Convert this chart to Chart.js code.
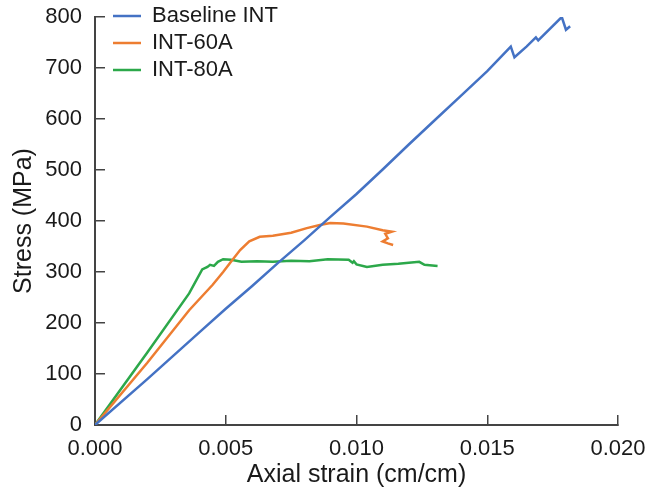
<!DOCTYPE html>
<html>
<head>
<meta charset="utf-8">
<script src="https://cdn.jsdelivr.net/npm/chart.js@4"></script>
<style>
html, body { margin: 0; padding: 0; background: #fff; }
#wrap { width: 647px; height: 491px; }
</style>
</head>
<body>
<div id="wrap"><canvas id="stress-strain"></canvas></div>
<script>
var seriesNames = ['Baseline INT', 'INT-60A', 'INT-80A'];
var seriesColors = ['#4472c4', '#ed7d31', '#2ca84a'];

var baselineStrain = [0, 0.002, 0.004, 0.005, 0.006, 0.007, 0.008, 0.009, 0.010, 0.011, 0.012, 0.013, 0.014, 0.015, 0.0159, 0.01604, 0.0165, 0.01686, 0.01695, 0.01785, 0.01801, 0.01817];
var baselineStress = [0, 90, 182, 228, 272, 318, 362, 408, 453, 501, 550, 598, 646, 694, 742, 721, 742, 760, 754, 800, 775, 782];

var int60Strain = [0, 0.002, 0.0036, 0.0045, 0.0049, 0.0052, 0.00555, 0.0059, 0.0063, 0.0068, 0.0075, 0.0081, 0.0086, 0.0090, 0.0095, 0.0104, 0.0110, 0.01135, 0.0111, 0.0112, 0.0110, 0.0112, 0.0114];
var int60Stress = [0, 122, 225, 275, 300, 320, 343, 360, 369, 371, 377, 386, 392, 396, 395, 389, 382, 379, 375, 366, 360, 356, 353];

var int80Strain = [0, 0.002, 0.0036, 0.0041, 0.0043, 0.0044, 0.00455, 0.0047, 0.0049, 0.0052, 0.0056, 0.0062, 0.0068, 0.0075, 0.0082, 0.0089, 0.0097, 0.00985, 0.0099, 0.0100, 0.0104, 0.0110, 0.0116, 0.0120, 0.0124, 0.0126, 0.0131];
var int80Stress = [0, 142, 258, 305, 310, 314, 312, 320, 325, 324, 320, 321, 320, 322, 321, 325, 324, 318, 321, 315, 310, 314, 316, 318, 320, 314, 312];

var xTicks = [0, 0.005, 0.010, 0.015, 0.020];
var yTicks = [0, 100, 200, 300, 400, 500, 600, 700, 800];

function pairs(xs, ys) {
  return xs.map(function (x, i) { return { x: x, y: ys[i] }; });
}

var allStrain = [baselineStrain, int60Strain, int80Strain];
var allStress = [baselineStress, int60Stress, int80Stress];

var datasets = seriesNames.map(function (name, i) {
  return {
    label: name,
    data: pairs(allStrain[i], allStress[i]),
    borderColor: seriesColors[i],
    backgroundColor: seriesColors[i],
    borderWidth: 2.5,
    pointRadius: 0,
    showLine: true,
    fill: false,
    tension: 0
  };
});

var axisColor = '#444';
var textColor = '#1a1a1a';
var tickFont = { family: 'Liberation Sans, Arial, sans-serif', size: 22 };
var titleFont = { family: 'Liberation Sans, Arial, sans-serif', size: 25 };

// put the in-plot legend up in the top-left corner, next to the 800 tick
var legendNudge = {
  id: 'legendNudge',
  afterLayout: function (chart) {
    var lg = chart.legend, ca = chart.chartArea;
    if (!lg) return;
    var w = lg.right - lg.left, h = lg.bottom - lg.top;
    lg.left = ca.left + 13;
    lg.top = ca.top - 17;
    lg.right = lg.left + w;
    lg.bottom = lg.top + h;
  }
};

Chart.defaults.font.family = tickFont.family;
Chart.defaults.color = textColor;

var context = document.getElementById('stress-strain').getContext('2d');
var chart = new Chart(context, {
  type: 'scatter',
  data: { datasets: datasets },
  plugins: [legendNudge],
  options: {
    responsive: true,
    maintainAspectRatio: false,
    animation: false,
    layout: { padding: { left: 0, right: 29, top: 17, bottom: 0 } },
    plugins: {
      tooltip: { enabled: false },
      legend: {
        position: 'chartArea',
        align: 'start',
        labels: {
          usePointStyle: true,
          pointStyle: 'line',
          pointStyleWidth: 28,
          boxHeight: 22,
          padding: 5,
          color: textColor,
          font: tickFont
        }
      }
    },
    scales: {
      x: {
        type: 'linear',
        min: 0,
        max: 0.020,
        afterFit: function (s) { s.height = 66; s.paddingLeft = 0; s.paddingRight = 0; },
        afterBuildTicks: function (s) { s.ticks = xTicks.map(function (v) { return { value: v }; }); },
        ticks: {
          padding: 21,
          color: textColor,
          font: tickFont,
          callback: function (v) { return Number(v).toFixed(3); }
        },
        grid: { drawOnChartArea: false, drawTicks: true, tickLength: -10, color: axisColor, lineWidth: 1.5 },
        border: { display: true, color: axisColor, width: 2 },
        title: { display: true, text: 'Axial strain (cm/cm)', color: textColor, font: titleFont, padding: { top: 0, bottom: 1 } }
      },
      y: {
        type: 'linear',
        min: 0,
        max: 800,
        afterFit: function (s) { s.width = 95; s.paddingTop = 0; s.paddingBottom = 0; },
        afterBuildTicks: function (s) { s.ticks = yTicks.map(function (v) { return { value: v }; }); },
        ticks: { padding: 23, color: textColor, font: tickFont },
        grid: { drawOnChartArea: false, drawTicks: true, tickLength: -10, color: axisColor, lineWidth: 1.5 },
        border: { display: true, color: axisColor, width: 2 },
        title: { display: true, text: 'Stress (MPa)', color: textColor, font: titleFont, padding: { top: 9, bottom: 0 } }
      }
    }
  }
});
</script>
</body>
</html>
